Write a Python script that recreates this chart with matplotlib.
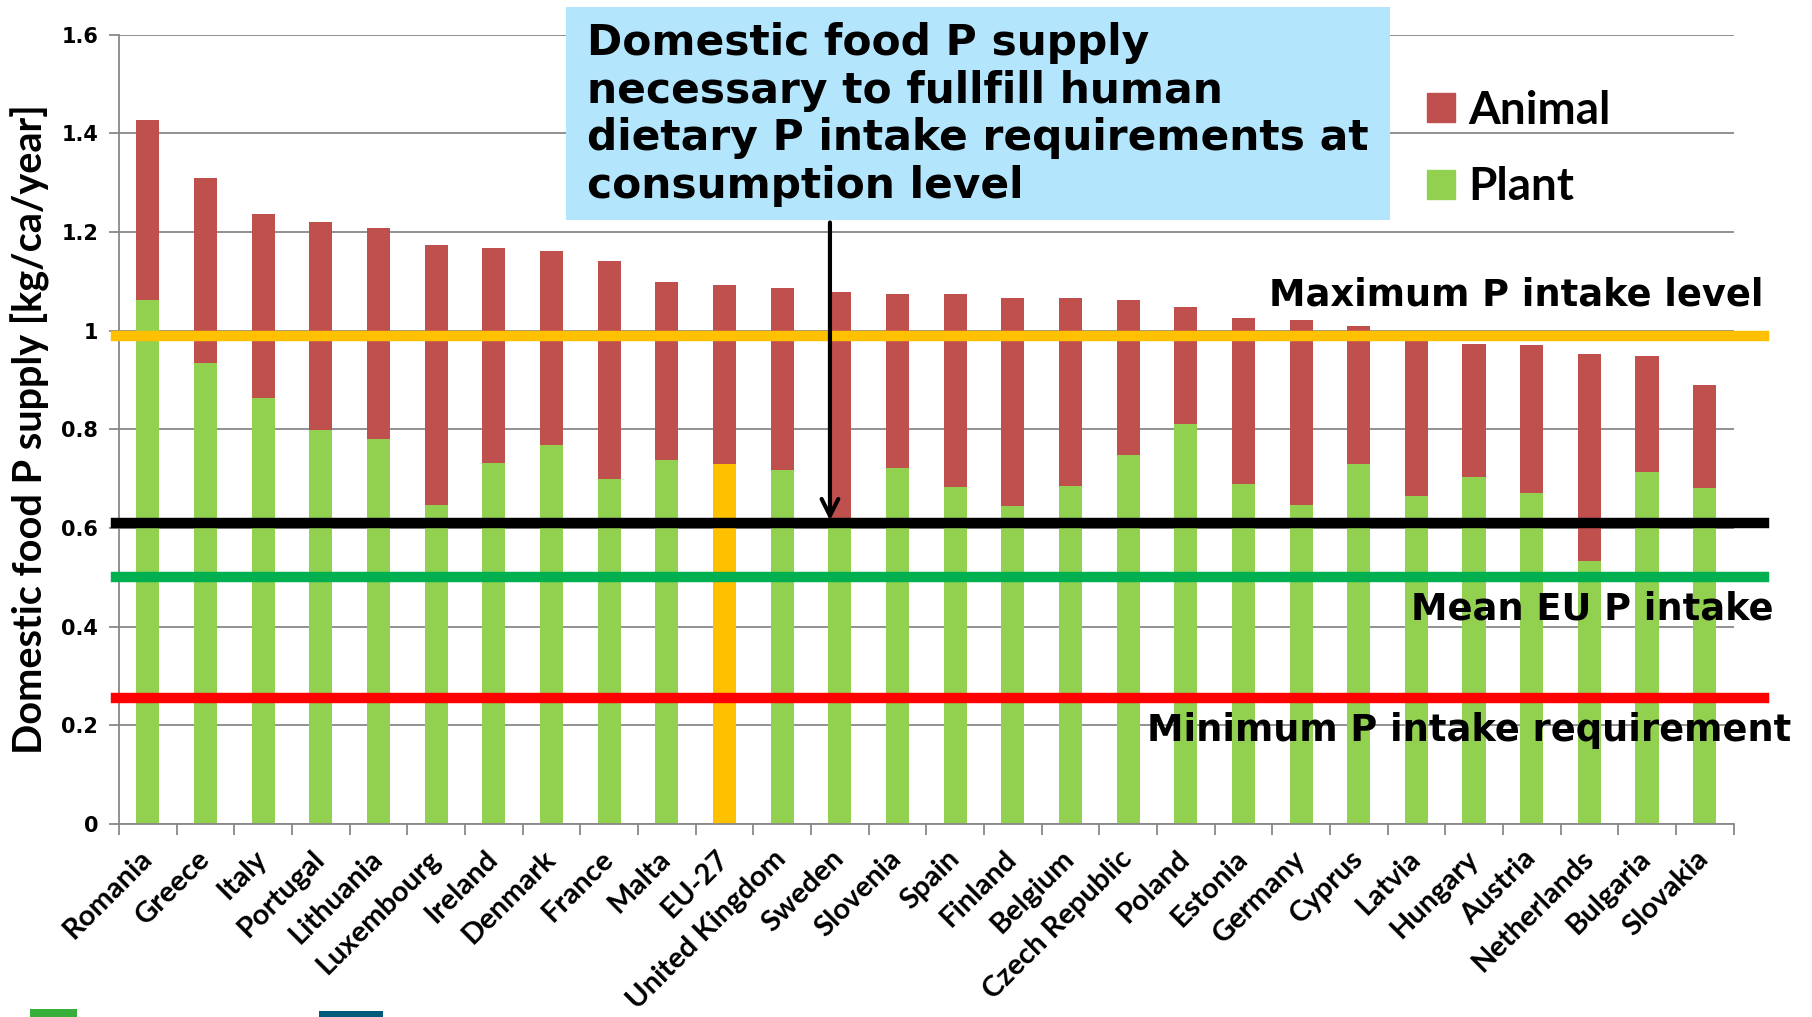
import numpy as np
import matplotlib
matplotlib.use("Agg")
import matplotlib.pyplot as plt
from matplotlib.patches import Rectangle, Patch

# ---- data ----
countries = ['Romania', 'Greece', 'Italy', 'Portugal', 'Lithuania', 'Luxembourg',
             'Ireland', 'Denmark', 'France', 'Malta', 'EU-27', 'United Kingdom',
             'Sweden', 'Slovenia', 'Spain', 'Finland', 'Belgium', 'Czech Republic',
             'Poland', 'Estonia', 'Germany', 'Cyprus', 'Latvia', 'Hungary',
             'Austria', 'Netherlands', 'Bulgaria', 'Slovakia']
plant = [1.063, 0.935, 0.864, 0.799, 0.780, 0.647, 0.731, 0.768, 0.700, 0.738,
         0.729, 0.717, 0.610, 0.721, 0.684, 0.644, 0.686, 0.747, 0.810, 0.689,
         0.647, 0.729, 0.665, 0.703, 0.670, 0.534, 0.714, 0.682]
animal = [0.364, 0.374, 0.373, 0.421, 0.429, 0.527, 0.436, 0.394, 0.441, 0.361,
          0.363, 0.370, 0.468, 0.354, 0.391, 0.422, 0.380, 0.316, 0.239, 0.337,
          0.374, 0.281, 0.328, 0.271, 0.300, 0.419, 0.235, 0.208]
highlight = 'EU-27'

max_level = 0.99      # maximum P intake level
necessary = 0.61      # supply needed to meet requirements
mean_eu = 0.50        # mean EU P intake
min_req = 0.255       # minimum P intake requirement

yticks = [0, 0.2, 0.4, 0.6, 0.8, 1.0, 1.2, 1.4, 1.6]
ytick_labels = ['0', '0.2', '0.4', '0.6', '0.8', '1', '1.2', '1.4', '1.6']

# ---- colours ----
C_ANIMAL = '#C0504D'
C_PLANT = '#92D050'
C_EU = '#FFC000'
C_GRID = '#888888'

W, H = 1812, 1017
fig = plt.figure(figsize=(W / 100, H / 100), dpi=100)
ax = fig.add_axes([119 / W, 1 - 824 / H, (1733.5 - 119) / W, (824 - 34.7) / H])

x = np.arange(len(countries))
plant_colors = [C_EU if c == highlight else C_PLANT for c in countries]
ax.bar(x, plant, 0.4, color=plant_colors, zorder=2)
ax.bar(x, animal, 0.4, bottom=plant, color=C_ANIMAL, zorder=2)

ax.set_xlim(-0.5, len(countries) - 0.5)
ax.set_ylim(0, 1.6)
ax.set_yticks(yticks)
ax.set_yticklabels(ytick_labels, fontfamily='DejaVu Sans', fontweight='bold', fontsize=15)
ax.yaxis.grid(True, color=C_GRID, lw=1.3, zorder=0)
ax.set_axisbelow(True)

ax.set_xticks(x)
ax.set_xticklabels(countries, rotation=45, ha='right', va='center', rotation_mode='anchor',
                   fontfamily='Lato', fontweight='bold', fontsize=21)
ax.set_xticks(np.arange(-0.5, len(countries)), minor=True)
ax.tick_params(axis='x', which='major', length=0, pad=22)
ax.tick_params(axis='x', which='minor', length=8, color=C_GRID, width=1.3, direction='out')
ax.tick_params(axis='y', length=7, color=C_GRID, width=1.3, pad=8)

for s in ['top', 'right']:
    ax.spines[s].set_visible(False)
for s in ['left', 'bottom']:
    ax.spines[s].set_color(C_GRID)
    ax.spines[s].set_linewidth(1.3)

ax.set_ylabel('Domestic food P supply [kg/ca/year]', fontfamily='Lato',
              fontweight='bold', fontsize=28.5)
ax.yaxis.set_label_coords(-0.043, 0.5)

# reference lines, running a little past the plot area
for val, col in [(max_level, C_EU), (necessary, 'black'), (mean_eu, '#00B050'), (min_req, '#FF0000')]:
    ax.axhline(val, xmin=-0.002, xmax=1.019, color=col, lw=7.5, clip_on=False, zorder=3)

ann_kw = dict(fontfamily='DejaVu Sans', fontweight='bold', fontsize=26.5, va='center', zorder=4)
ax.text(19.45, 1.072, 'Maximum P intake level', **ann_kw)
ax.text(21.9, 0.436, 'Mean EU P intake', **ann_kw)
ax.text(17.33, 0.19, 'Minimum P intake requirement', **ann_kw)

# explanation box with arrow down to the required level
fig.patches.append(Rectangle((566 / W, 1 - 220 / H), 824 / W, 213 / H,
                             transform=fig.transFigure, facecolor='#B3E6FC',
                             edgecolor='none', zorder=5))
fig.text(587 / W, 1 - 22 / H,
         'Domestic food P supply\nnecessary to fullfill human\n'
         'dietary P intake requirements at\nconsumption level',
         ha='left', va='top', fontfamily='DejaVu Sans', fontweight='bold',
         fontsize=30.5, linespacing=1.17, zorder=6)
ax.annotate('', xy=(11.83, necessary), xytext=(11.83, 1.225),
            arrowprops=dict(arrowstyle='->', color='black', lw=3, mutation_scale=30),
            zorder=6, annotation_clip=False)

# legend
handles = [Patch(color=C_ANIMAL, label='Animal'), Patch(color=C_PLANT, label='Plant')]
fig.legend(handles=handles, loc='upper left', bbox_to_anchor=(1427 / W, 1 - 90 / H),
           frameon=False, borderaxespad=0, borderpad=0, handlelength=0.6,
           handleheight=0.6, handletextpad=0.3, labelspacing=0.75,
           prop=dict(family='Lato', weight='bold', size=33))

# logo remnants cut off at the bottom edge
fig.patches.append(Rectangle((30 / W, 0), 47 / W, 8 / H, transform=fig.transFigure,
                             facecolor='#36B03A', edgecolor='none'))
fig.patches.append(Rectangle((319 / W, 0), 64 / W, 6 / H, transform=fig.transFigure,
                             facecolor='#005A7A', edgecolor='none'))

fig.savefig('out.png', dpi=100, facecolor='white')
